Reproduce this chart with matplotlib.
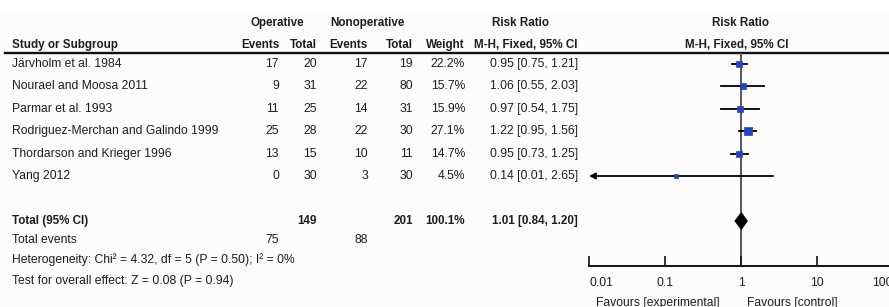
import numpy as np
import matplotlib
matplotlib.use("Agg")
import matplotlib.pyplot as plt

plt.rcParams['font.family'] = ['Liberation Sans Narrow', 'Liberation Sans', 'DejaVu Sans']

# ---- data ----
studies  = ["Järvholm et al. 1984", "Nourael and Moosa 2011", "Parmar et al. 1993",
            "Rodriguez-Merchan and Galindo 1999", "Thordarson and Krieger 1996", "Yang 2012"]
ev_op    = [17, 9, 11, 25, 13, 0]
tot_op   = [20, 31, 25, 28, 15, 30]
ev_non   = [17, 22, 14, 22, 10, 3]
tot_non  = [19, 80, 31, 30, 11, 30]
weights  = [22.2, 15.7, 15.9, 27.1, 14.7, 4.5]
rr       = [0.95, 1.06, 0.97, 1.22, 0.95, 0.14]
rr_lo    = [0.75, 0.55, 0.54, 0.95, 0.73, 0.01]
rr_hi    = [1.21, 2.03, 1.75, 1.56, 1.25, 2.65]
pooled   = [1.01, 0.84, 1.20]
het_text = "Heterogeneity: Chi² = 4.32, df = 5 (P = 0.50); I² = 0%"
eff_text = "Test for overall effect: Z = 0.08 (P = 0.94)"
ticks    = [0.01, 0.1, 1, 10, 100]
tick_lbl = ["0.01", "0.1", "1", "10", "100"]

W, H = 889, 307
fig = plt.figure(figsize=(W / 100, H / 100), dpi=100)
fig.patch.set_facecolor("white")

# full-figure axes in pixel units for the table
tab = fig.add_axes([0, 0, 1, 1])
tab.set_xlim(0, W)
tab.set_ylim(H, 0)
tab.axis("off")
tab.add_patch(plt.Rectangle((0, 13), W, H, color="#fdfcfa", zorder=0))

txt = "#1e1e1e"
fs = 8.7     # normal text
fb = 8.4     # bold headers
row_y = [64 + 22.4 * i for i in range(len(studies))]
y_tot, y_ev, y_het, y_eff = 221, 240, 260, 281

# column right edges
c_ev1, c_t1, c_ev2, c_t2, c_w, c_rr = 279, 317, 368, 413, 465, 578

def t(x, y, s, ha="right", bold=False, **kw):
    tab.text(x, y, s, ha=ha, va="center", fontsize=fb if bold else fs, color=txt,
             fontweight="bold" if bold else "normal", **kw)

# header
t(277, 23, "Operative", ha="center", bold=True)
t(367, 23, "Nonoperative", ha="center", bold=True)
t(521, 23, "Risk Ratio", ha="center", bold=True)
t(740, 23, "Risk Ratio", ha="center", bold=True)
t(12, 45, "Study or Subgroup", ha="left", bold=True)
t(c_ev1, 45, "Events", bold=True)
t(c_t1, 45, "Total", bold=True)
t(c_ev2, 45, "Events", bold=True)
t(c_t2, 45, "Total", bold=True)
t(c_w, 45, "Weight", bold=True)
t(c_rr, 45, "M-H, Fixed, 95% CI", bold=True)
t(737, 45, "M-H, Fixed, 95% CI", ha="center", bold=True)
tab.plot([5, W], [53, 53], color="#111111", lw=1.7)

for i, name in enumerate(studies):
    y = row_y[i]
    t(12, y, name, ha="left")
    t(c_ev1, y, str(ev_op[i]))
    t(c_t1, y, str(tot_op[i]))
    t(c_ev2, y, str(ev_non[i]))
    t(c_t2, y, str(tot_non[i]))
    t(c_w, y, f"{weights[i]:.1f}%")
    t(c_rr, y, f"{rr[i]:.2f} [{rr_lo[i]:.2f}, {rr_hi[i]:.2f}]")

t(12, y_tot, "Total (95% CI)", ha="left", bold=True)
t(c_t1, y_tot, str(sum(tot_op)), bold=True)
t(c_t2, y_tot, str(sum(tot_non)), bold=True)
t(c_w, y_tot, f"{sum(weights):.1f}%", bold=True)
t(c_rr, y_tot, f"{pooled[0]:.2f} [{pooled[1]:.2f}, {pooled[2]:.2f}]", bold=True)
t(12, y_ev, "Total events", ha="left")
t(c_ev1, y_ev, str(sum(ev_op)))
t(c_ev2, y_ev, str(sum(ev_non)))
t(12, y_het, het_text, ha="left")
t(12, y_eff, eff_text, ha="left")
t(720, 303, "Favours [experimental]")
t(747, 303, "Favours [control]", ha="left")

# forest axes: x from 589 px (0.01) to 893 px (100), y from 53 to 266 px
x0, x1, ytop, ybot = 589, 893, 53, 266
fa = fig.add_axes([x0 / W, 1 - ybot / H, (x1 - x0) / W, (ybot - ytop) / H])
fa.patch.set_alpha(0)
fa.set_xscale("log")
fa.set_xlim(ticks[0], ticks[-1])
fa.set_ylim(ybot, ytop)
for s in ["top", "left", "right"]:
    fa.spines[s].set_visible(False)
fa.spines["bottom"].set_linewidth(1.4)
fa.spines["bottom"].set_color("#111111")
fa.set_yticks([])
fa.set_xticks(ticks)
fa.set_xticklabels(tick_lbl)
fa.minorticks_off()
fa.tick_params(axis="x", direction="in", length=7, width=1.2, pad=8,
               labelsize=fs, labelcolor=txt, color="#111111")
lbls = fa.get_xticklabels()
lbls[0].set_ha("left")
lbls[-1].set_ha("right")

fa.plot([1, 1], [ytop, ybot], color="#555555", lw=1.4, zorder=1)

for i in range(len(studies)):
    y = row_y[i]
    lo = rr_lo[i]
    if lo <= ticks[0]:
        fa.annotate("", xy=(ticks[0], y), xytext=(rr_hi[i], y),
                    arrowprops=dict(arrowstyle="-|>", color="black", lw=1.3,
                                    mutation_scale=9, shrinkA=0, shrinkB=0), zorder=2)
    else:
        fa.plot([lo, rr_hi[i]], [y, y], color="black", lw=1.3, zorder=2)
    side_px = 1.45 * np.sqrt(weights[i])
    fa.plot(rr[i], y, marker="s", ms=side_px * 0.72, color="#2444b8",
            mec="#2444b8", mew=0.5, zorder=3)

dh = 8
fa.fill([pooled[1], pooled[0], pooled[2], pooled[0]],
        [y_tot, y_tot - dh, y_tot, y_tot + dh], color="black", zorder=3)

fig.savefig("out.png", dpi=100)
